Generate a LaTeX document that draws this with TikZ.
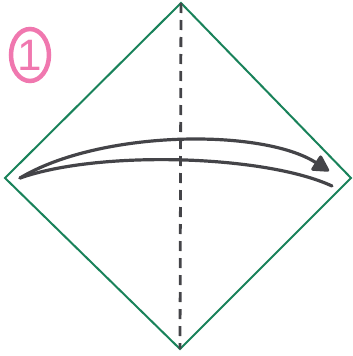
\documentclass[tikz,border=0pt]{standalone}
\usepackage{fontspec}
\setsansfont{Liberation Sans}
\usetikzlibrary{arrows.meta, shapes.geometric}
\definecolor{paperedge}{RGB}{25,130,90}
\definecolor{foldgray}{RGB}{68,68,72}
\definecolor{steppink}{RGB}{240,120,175}

\begin{document}
\begin{tikzpicture}[
        x=1pt, y=-1pt,
        paper/.style={draw=paperedge, line width=2pt, line join=miter},
        valley/.style={draw=foldgray, line width=2.8pt, dash pattern=on 10pt off 7pt},
        foldarrow/.style={draw=foldgray, line width=3.2pt, line cap=round},
        stepnum/.style={
            draw=steppink, ellipse, line width=4.5pt,
            minimum width=38pt, minimum height=52pt, inner sep=0pt,
            text=steppink, font=\sffamily\fontsize{44}{44}\selectfont
        }
    ]

        \useasboundingbox (0,0) rectangle (353,356);

        % corners of the square sheet
        \coordinate (Top) at (181,3);
        \coordinate (Right) at (351,178);
        \coordinate (Bottom) at (180,349);
        \coordinate (Left) at (5,178);

        \draw[paper] (Top) -- (Right) -- (Bottom) -- (Left) -- cycle;
        \draw[valley] (Top) -- (Bottom);

        % fold arrow
        \coordinate (Tail) at (20,178);
        \coordinate (Tip) at (329,171);
        \coordinate (Return) at (332,186);
        \draw[foldarrow, -{Triangle[length=18pt, width=19pt, round]}]
            (Tail) .. controls (100,130) and (262,128) .. (Tip);
        \draw[foldarrow] (Tail) .. controls (100,150) and (265,155) .. (Return);

        \node[stepnum] (StepOne) at (30,55) {1};

    \end{tikzpicture}
\end{document}
